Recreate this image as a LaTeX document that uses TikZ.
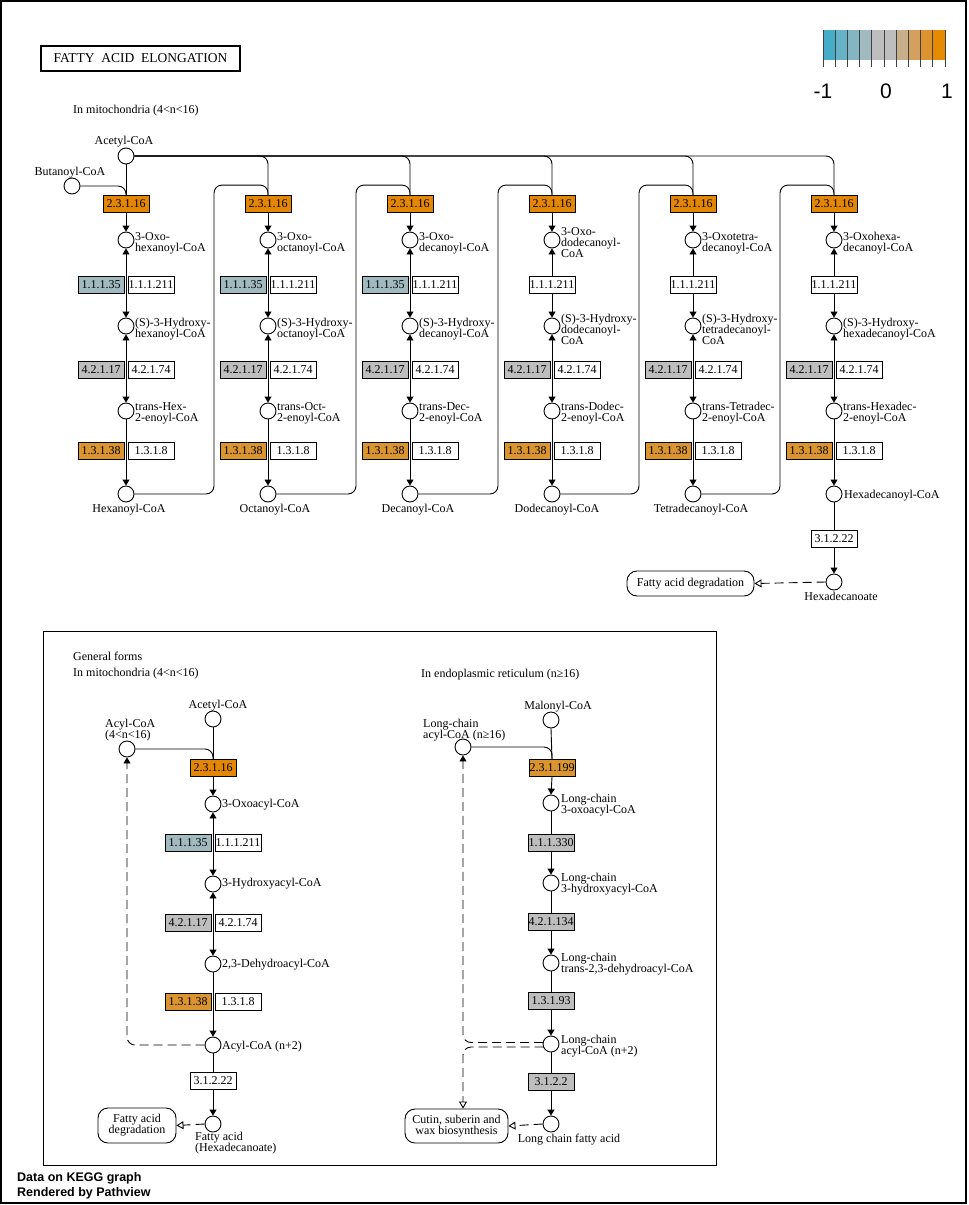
\documentclass[tikz,border=0pt]{standalone}
\usepackage{fontspec}
\setmainfont{Liberation Serif}
\newfontfamily\lsans{Liberation Sans}
\usetikzlibrary{arrows.meta,calc}
\pgfdeclarelayer{bg}
\pgfsetlayers{bg,main}
\definecolor{eOr}{RGB}{226,134,4}
\definecolor{eOrL}{RGB}{218,148,48}
\definecolor{eBl}{RGB}{160,186,192}
\definecolor{eGr}{RGB}{190,190,190}
\definecolor{lgA}{RGB}{69,173,200}
\definecolor{lgB}{RGB}{102,178,198}
\definecolor{lgC}{RGB}{131,182,194}
\definecolor{lgD}{RGB}{160,186,192}
\definecolor{lgE}{RGB}{190,190,190}
\definecolor{lgF}{RGB}{190,190,190}
\definecolor{lgG}{RGB}{201,174,138}
\definecolor{lgH}{RGB}{212,160,96}
\definecolor{lgI}{RGB}{221,147,48}
\definecolor{lgJ}{RGB}{230,138,0}
\tikzset{
  cpd/.style={circle,draw,fill=white,minimum size=16pt,inner sep=0pt,line width=0.9pt},
  enz/.style={draw,fill=white,minimum width=46pt,minimum height=17pt,inner sep=0pt,line width=0.9pt,font=\fontsize{12}{12}\selectfont},
  lbl/.style={inner sep=0pt,align=left,font=\fontsize{12}{11}\selectfont},
  clbl/.style={inner sep=0pt,align=center,font=\fontsize{12}{11}\selectfont},
  rxn/.style={line width=0.9pt},
  dsh/.style={line width=0.9pt,dash pattern=on 9pt off 5pt},
  mapbox/.style={draw,fill=white,rounded corners=10pt,line width=0.9pt,inner sep=0pt,align=center,font=\fontsize{12}{11}\selectfont},
  >={Triangle[width=7pt,length=6pt]},
  opn/.style={-{Triangle[open,width=8pt,length=7pt,fill=white]}},
}
\begin{document}
\begin{tikzpicture}[x=1pt,y=-1pt]
\useasboundingbox (0,0) rectangle (969,1205);
\draw[line width=2pt] (1,1) rectangle (966,1203);

% title
\node[draw,line width=2pt,minimum width=199pt,minimum height=25pt,inner sep=0pt,font=\fontsize{13.5}{13.5}\selectfont] (title) at (140.5,58.5) {FATTY\ \ ACID\ \ ELONGATION};

% legend
\foreach \i/\c in {0/lgA,1/lgB,2/lgC,3/lgD,4/lgE,5/lgF,6/lgG,7/lgH,8/lgI,9/lgJ}
  \fill[\c] (823+\i*12.2,30) rectangle (823+\i*12.2+12.2,60);
\foreach \i in {0,...,10}
  \draw[line width=0.8pt,black!75] (823+\i*12.2,30) -- (823+\i*12.2,67);
\node[font=\lsans\fontsize{21}{21}\selectfont,inner sep=0pt] (lgm) at (823,91) {-1};
\node[font=\lsans\fontsize{21}{21}\selectfont,inner sep=0pt] (lgz) at (886,91) {0};
\node[font=\lsans\fontsize{21}{21}\selectfont,inner sep=0pt] (lgp) at (947,91) {1};

% top section
\node[lbl,anchor=west] (hdr1) at (73,111) {In mitochondria (4<n<16)};
\node[cpd] (ac) at (126,156) {};
\node[clbl] (acl) at (124,142) {Acetyl-CoA};
\node[cpd] (bu) at (72,186) {};
\node[clbl] (bul) at (70,173) {Butanoyl-CoA};

\foreach \n/\x/\oxo/\hyd/\tr in {
 1/126/{3-Oxo-\\hexanoyl-CoA}/{(S)-3-Hydroxy-\\hexanoyl-CoA}/{trans-Hex-\\2-enoyl-CoA},
 2/268/{3-Oxo-\\octanoyl-CoA}/{(S)-3-Hydroxy-\\octanoyl-CoA}/{trans-Oct-\\2-enoyl-CoA},
 3/410/{3-Oxo-\\decanoyl-CoA}/{(S)-3-Hydroxy-\\decanoyl-CoA}/{trans-Dec-\\2-enoyl-CoA},
 4/552/{3-Oxo-\\dodecanoyl-\\CoA}/{(S)-3-Hydroxy-\\dodecanoyl-\\CoA}/{trans-Dodec-\\2-enoyl-CoA},
 5/693/{3-Oxotetra-\\decanoyl-CoA}/{(S)-3-Hydroxy-\\tetradecanoyl-\\CoA}/{trans-Tetradec-\\2-enoyl-CoA},
 6/834/{3-Oxohexa-\\decanoyl-CoA}/{(S)-3-Hydroxy-\\hexadecanoyl-CoA}/{trans-Hexadec-\\2-enoyl-CoA}}
{
  \node[enz,fill=eOr] (k\n) at (\x,204) {2.3.1.16};
  \node[cpd] (o\n) at (\x,240) {};
  \node[lbl,anchor=west] at (\x+9,243) {\oxo};
  \ifnum\n<4
    \node[enz,fill=eBl] (r\n) at (\x-25,285) {1.1.1.35};
    \node[enz] (s\n) at (\x+25,285) {1.1.1.211};
  \else
    \node[enz] (s\n) at (\x,285) {1.1.1.211};
  \fi
  \node[cpd] (h\n) at (\x,326) {};
  \node[lbl,anchor=west] at (\x+9,329) {\hyd};
  \node[enz,fill=eGr] (d\n) at (\x-25,370) {4.2.1.17};
  \node[enz] (dd\n) at (\x+25,370) {4.2.1.74};
  \node[cpd] (t\n) at (\x,411) {};
  \node[lbl,anchor=west] at (\x+9,413) {\tr};
  \node[enz,fill=eOrL] (y\n) at (\x-25,451) {1.3.1.38};
  \node[enz] (yy\n) at (\x+25,451) {1.3.1.8};
  \node[cpd] (b\n) at (\x,494) {};
}
\node[clbl] (b1l) at (129,510) {Hexanoyl-CoA};
\node[clbl] (b2l) at (275,510) {Octanoyl-CoA};
\node[clbl] (b3l) at (418,510) {Decanoyl-CoA};
\node[clbl] (b4l) at (557,510) {Dodecanoyl-CoA};
\node[clbl] (b5l) at (701,510) {Tetradecanoyl-CoA};
\node[lbl,anchor=west] (b6l) at (844,496) {Hexadecanoyl-CoA};

\node[enz] (e31222) at (834,539) {3.1.2.22};
\node[cpd] (hx) at (834,582) {};
\node[clbl] (hxl) at (841,596) {Hexadecanoate};
\node[mapbox,minimum width=127pt,minimum height=25pt] (fad1) at (690.5,583.5) {Fatty acid degradation};

\begin{pgfonlayer}{bg}
  \foreach \n in {1,...,6}{
    \draw[rxn,->] (k\n.south) -- (o\n.north);
    \draw[rxn,<->] (o\n.south) -- (h\n.north);
    \draw[rxn,<->] (h\n.south) -- (t\n.north);
    \draw[rxn,->] (t\n.south) -- (b\n.north);
  }
  \draw[rxn] (ac.south) -- (k1.north);
  \draw[rxn,rounded corners=8pt] (bu.east) -| (k1.north);
  \foreach \n in {2,...,6}
    \draw[rxn,rounded corners=8pt] (ac.east) -| (k\n.north);
  \foreach \n/\m in {1/2,2/3,3/4,4/5,5/6}
    \draw[rxn,rounded corners=8pt] (b\n.east) -| ($(k\m.north)+(-54,-10)$) -| (k\m.north);
  \draw[rxn,->] (b6.south) -- (hx.north);
\end{pgfonlayer}
\draw[dsh,opn] (hx.west) -- (fad1.east);

% general forms
\draw[line width=1pt] (43,631) rectangle (716,1165);
\node[lbl,anchor=west] (gfh) at (73,656) {General forms};
\node[lbl,anchor=west] (gmh) at (73,674) {In mitochondria (4<n<16)};
\node[lbl,anchor=west] (geh) at (421,675) {In endoplasmic reticulum (n≥16)};

% left general column
\node[cpd] (ga) at (213,719) {};
\node[clbl] (gal) at (218,706) {Acetyl-CoA};
\node[cpd] (gacyl) at (127,749) {};
\node[lbl,anchor=west] (gacyll) at (105,730.5) {Acyl-CoA\\(4<n<16)};
\node[enz,fill=eOr] (gk) at (213,768) {2.3.1.16};
\node[cpd] (go) at (213,804) {};
\node[lbl,anchor=west] (gol) at (222,805) {3-Oxoacyl-CoA};
\node[enz,fill=eBl] (ge1a) at (188,843) {1.1.1.35};
\node[enz] (ge1b) at (238,843) {1.1.1.211};
\node[cpd] (gh) at (213,884) {};
\node[lbl,anchor=west] (ghl) at (222,884) {3-Hydroxyacyl-CoA};
\node[enz,fill=eGr] (ge2a) at (188,923) {4.2.1.17};
\node[enz] (ge2b) at (238,923) {4.2.1.74};
\node[cpd] (gt) at (213,964) {};
\node[lbl,anchor=west] (gtl) at (222,965) {2,3-Dehydroacyl-CoA};
\node[enz,fill=eOrL] (ge3a) at (188,1002) {1.3.1.38};
\node[enz] (ge3b) at (238,1002) {1.3.1.8};
\node[cpd] (gn) at (213,1045) {};
\node[lbl,anchor=west] (gnl) at (222,1047) {Acyl-CoA (n+2)};
\node[enz] (ge4) at (213,1081) {3.1.2.22};
\node[cpd] (gf) at (213,1124) {};
\node[lbl,anchor=north west] (gfl) at (195,1132) {Fatty acid\\(Hexadecanoate)};
\node[mapbox,minimum width=78pt,minimum height=35pt] (gfad) at (137,1125.5) {Fatty acid\\degradation};

% right general column
\node[cpd] (rm) at (551,720) {};
\node[clbl] (rml) at (558,707) {Malonyl-CoA};
\node[cpd] (rl) at (463,747) {};
\node[lbl,anchor=west] (rll) at (423,730.5) {Long-chain\\acyl-CoA (n≥16)};
\node[enz,fill=eOrL] (rk) at (552,768) {2.3.1.199};
\node[cpd] (ra) at (551,803) {};
\node[lbl,anchor=west] (ral) at (561,805.5) {Long-chain\\3-oxoacyl-CoA};
\node[enz,fill=eGr] (re1) at (551,843) {1.1.1.330};
\node[cpd] (rb) at (551,883) {};
\node[lbl,anchor=west] (rbl) at (561,884.5) {Long-chain\\3-hydroxyacyl-CoA};
\node[enz,fill=eGr] (re2) at (551,922) {4.2.1.134};
\node[cpd] (rc) at (551,963) {};
\node[lbl,anchor=west] (rcl) at (561,964) {Long-chain\\trans-2,3-dehydroacyl-CoA};
\node[enz,fill=eGr] (re3) at (551,1001) {1.3.1.93};
\node[cpd] (rd) at (551,1044) {};
\node[lbl,anchor=west] (rdl) at (561,1046) {Long-chain\\acyl-CoA (n+2)};
\node[enz,fill=eGr] (re4) at (551,1082) {3.1.2.2};
\node[cpd] (rf) at (551,1124) {};
\node[clbl] (rfl) at (569,1140) {Long chain fatty acid};
\node[mapbox,minimum width=103pt,minimum height=34pt] (rcut) at (456.5,1126) {Cutin, suberin and\\wax biosynthesis};

\begin{pgfonlayer}{bg}
  \draw[rxn] (ga.south) -- (gk.north);
  \draw[rxn,rounded corners=8pt] (gacyl.east) -| (gk.north);
  \draw[rxn,->] (gk.south) -- (go.north);
  \draw[rxn,<->] (go.south) -- (gh.north);
  \draw[rxn,<->] (gh.south) -- (gt.north);
  \draw[rxn,->] (gt.south) -- (gn.north);
  \draw[rxn,->] (gn.south) -- (gf.north);
  \draw[rxn] (rm.south) -- (rk.north);
  \draw[rxn,rounded corners=8pt] (rl.east) -| (rk.north);
  \draw[rxn,->] (rk.south) -- (ra.north);
  \draw[rxn,->] (ra.south) -- (rb.north);
  \draw[rxn,->] (rb.south) -- (rc.north);
  \draw[rxn,->] (rc.south) -- (rd.north);
  \draw[rxn,->] (rd.south) -- (rf.north);
\end{pgfonlayer}
\draw[dsh,->,rounded corners=8pt] (gn.west) -| (gacyl.south);
\draw[dsh,opn] (gf.west) -- (gfad.east);
\draw[dsh,->,rounded corners=8pt] ($(rd.center)+(-8,-1.5)$) -| (rl.south);
\draw[dsh,opn,rounded corners=8pt] ($(rd.center)+(-7.5,3)$) -| (rl.south |- rcut.north);
\draw[dsh,opn] (rf.west) -- (rcut.east);

% footer
\node[anchor=west,inner sep=0pt,font=\lsans\bfseries\fontsize{12.5}{12.5}\selectfont] (ft1) at (17,1178) {Data on KEGG graph};
\node[anchor=west,inner sep=0pt,font=\lsans\bfseries\fontsize{12.5}{12.5}\selectfont] (ft2) at (17,1193) {Rendered by Pathview};
\end{tikzpicture}
\end{document}
